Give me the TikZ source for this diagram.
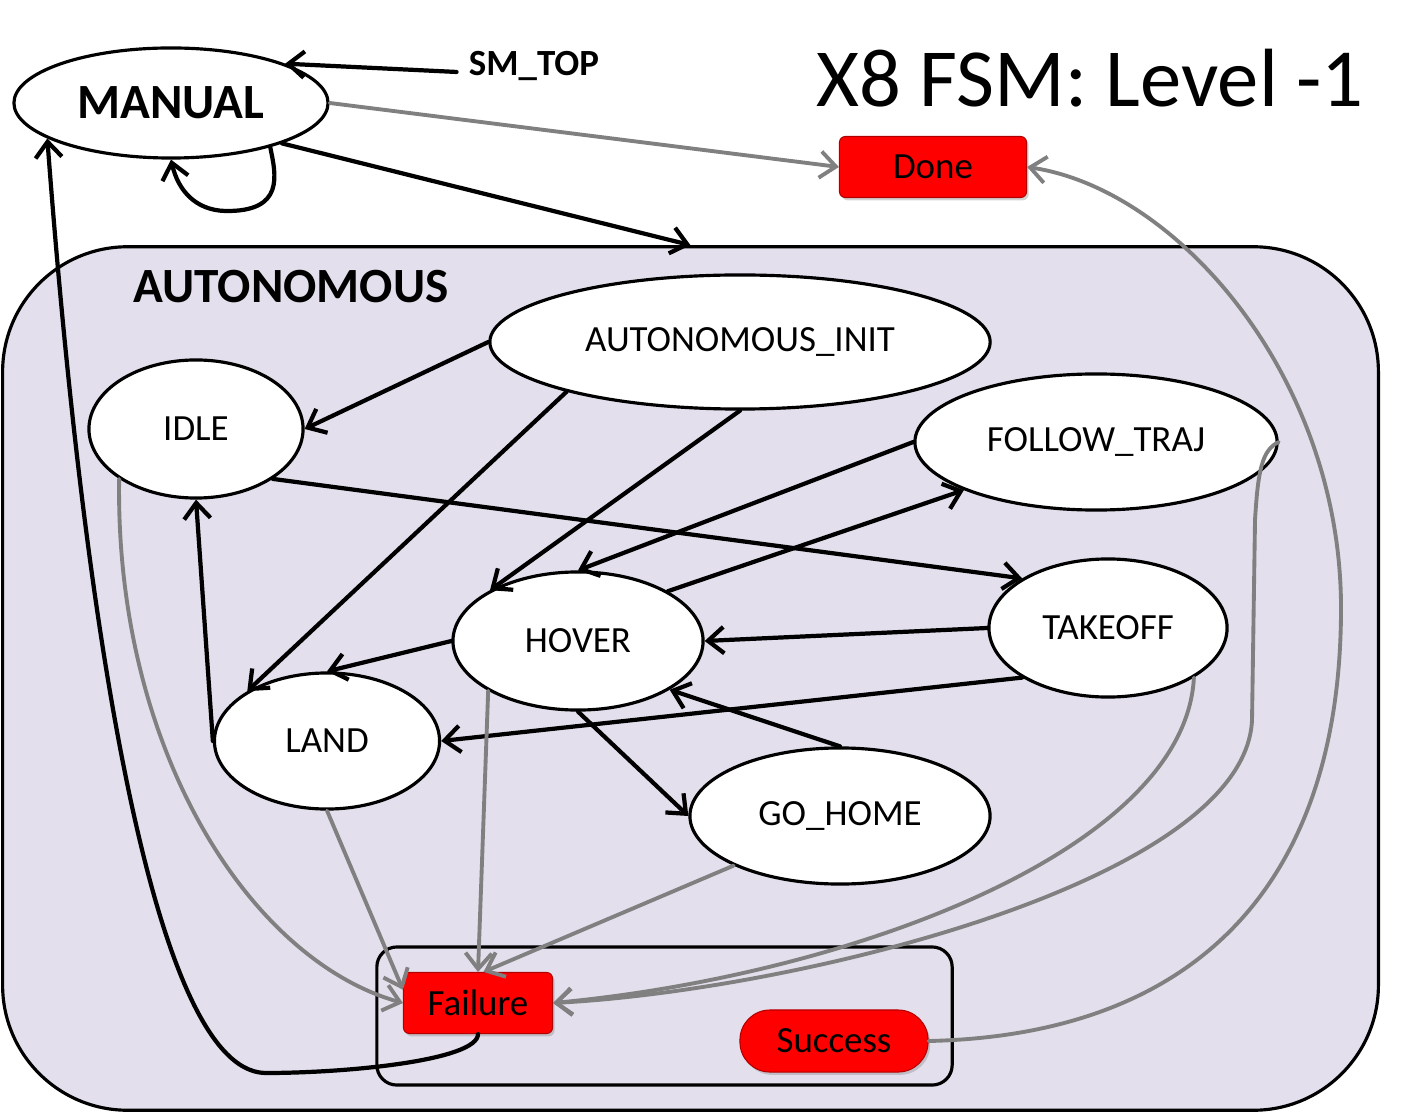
\documentclass[tikz,border=0pt]{standalone}
\usepackage{fontspec}
\setmainfont{Carlito}
\usetikzlibrary{arrows.meta}
\usetikzlibrary{shapes.geometric}
\usetikzlibrary{shadows}

\definecolor{autofill}{HTML}{E4DFEC}
\definecolor{edgegrey}{HTML}{808080}
\definecolor{outred}{HTML}{FF0000}

\tikzset{
  state/.style={ellipse, draw, fill=white, line width=0.9pt, inner sep=0pt, font=\fontsize{10.5}{12}\selectfont},
  outcome/.style={rectangle, rounded corners=1.7pt, fill=outred, draw=red!70!black, line width=0.3pt, inner sep=0pt, minimum height=0.61cm, font=\fontsize{10.5}{12}\selectfont, drop shadow={opacity=0.35, shadow xshift=0.6pt, shadow yshift=-0.8pt}},
  trans/.style={-{Straight Barb[length=4.5pt,width=7.5pt]}, line width=1.2pt, line cap=round},
  fail/.style={trans, draw=edgegrey, line width=1.1pt},
}

\begin{document}
\begin{tikzpicture}[x=0.01cm, y=-0.01cm]
    \useasboundingbox (0,0) rectangle (1416,1113);

    % container and outcomes box
    \node [draw, fill=autofill, rounded corners=1.25cm, line width=0.9pt, minimum width=13.75cm, minimum height=8.63cm] (auto) at (690.5,678.5) {};
    \node [font=\bfseries\fontsize{14}{16}\selectfont] (autolabel) at (291,287) {AUTONOMOUS};
    \node [draw, rounded corners=0.2cm, line width=0.9pt, minimum width=5.75cm, minimum height=1.38cm] (outbox) at (664.5,1016) {};

    \node [font=\fontsize{23.5}{28}\selectfont] (title) at (1090,78) {X8 FSM: Level -1};
    \node [font=\bfseries\fontsize{10.5}{12}\selectfont] (smtop) at (534,66) {SM\_TOP};

    \node [state, minimum width=3.14cm, minimum height=1.10cm, font=\bfseries\fontsize{14}{16}\selectfont] (manual) at (171,103) {MANUAL};
    \node [state, minimum width=5.00cm, minimum height=1.34cm] (init) at (740,342) {AUTONOMOUS\_INIT};
    \node [state, minimum width=2.14cm, minimum height=1.38cm] (idle) at (196,429) {IDLE};
    \node [state, minimum width=3.62cm, minimum height=1.36cm] (follow) at (1096,442) {FOLLOW\_TRAJ};
    \node [state, minimum width=2.38cm, minimum height=1.38cm] (takeoff) at (1108,628) {TAKEOFF};
    \node [state, minimum width=2.50cm, minimum height=1.38cm] (hover) at (578,641) {HOVER};
    \node [state, minimum width=2.25cm, minimum height=1.36cm] (land) at (327,741) {LAND};
    \node [state, minimum width=3.00cm, minimum height=1.36cm] (gohome) at (840,816) {GO\_HOME};

    \node [outcome, minimum width=1.87cm] (done) at (933,167) {Done};
    \node [outcome, minimum width=1.49cm] (failure) at (478,1003) {Failure};
    \node [outcome, minimum width=1.88cm, minimum height=0.62cm, rounded corners=0.3cm] (success) at (834,1041) {Success};

    % black transitions
    \draw [trans] ([yshift=-1.7pt]smtop.west) -- (manual.19);
    \draw [trans] (manual.-24) .. controls (276,175) and (285,212) .. (225,211) .. controls (195,210) and (178,190) .. (manual.south);
    \draw [trans] (manual.-20) -- (auto.north);
    \draw [trans] (init.west) -- (idle.east);
    \draw [trans] (init.196) -- (land.148);
    \draw [trans] (init.south) -- (hover.150);
    \draw [trans] (follow.west) -- (hover.north);
    \draw [trans] (hover.29) -- (follow.200);
    \draw [trans] (idle.-33) -- (takeoff.150);
    \draw [trans] (takeoff.west) -- (hover.east);
    \draw [trans] (takeoff.210) -- (land.east);
    \draw [trans] (hover.west) -- (land.north);
    \draw [trans] (land.west) -- (idle.south);
    \draw [trans] (hover.south) -- (gohome.west);
    \draw [trans] (gohome.north) -- (hover.-28);
    \draw [trans] (failure.south) .. controls (478,1060) and (350,1073) .. (265,1073) .. controls (150,1070) and (82,600) .. (manual.196);

    % grey transitions
    \draw [fail] (manual.east) -- (done.west);
    \draw [fail] (success.east) .. controls (1200,1035) and (1341,880) .. (1341,608) .. controls (1341,380) and (1180,190) .. (done.east);
    \draw [fail] (follow.east) .. controls (1262,450) and (1258,470) .. (1255,520) -- (1252,720) .. controls (1245,880) and (800,990) .. (failure.east);
    \draw [fail] (takeoff.-30) .. controls (1185,850) and (850,975) .. (failure.east);
    \draw [fail] (idle.213) .. controls (115,750) and (250,960) .. (failure.west);
    \draw [fail] (land.south) -- (failure.170);
    \draw [fail] (hover.209) -- (failure.north);
    \draw [fail] (gohome.205) -- (failure.80);
  \end{tikzpicture}
\end{document}
